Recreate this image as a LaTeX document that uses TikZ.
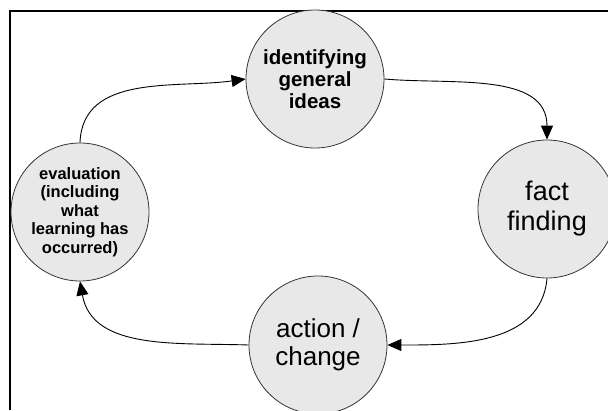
\documentclass[tikz,border=0pt]{standalone}
\usepackage{fontspec}
\setmainfont{Liberation Sans}
\usetikzlibrary{arrows.meta}

\begin{document}
\begin{tikzpicture}[x=1pt,y=-1pt,>={Triangle[length=14pt,width=12pt]}]
            \useasboundingbox (0,0) rectangle (608,410);
            \fill[white] (0,0) rectangle (608,410);
            \clip (0,0) rectangle (608,410);
            \draw[line width=2pt] (10,410) -- (10,11) -- (608,11);
            \begin{scope}[every node/.style={circle,draw=black!80,fill=gray!18,line width=0.8pt,minimum size=138pt,inner sep=0pt,align=center}]
                \node[font=\fontsize{20.5}{22}\selectfont\bfseries] (idea) at (315,79) {identifying\\general\\ideas};
                \node[font=\fontsize{27}{30}\selectfont] (fact) at (547,209) {fact\\finding};
                \node[font=\fontsize{26}{28.5}\selectfont] (action) at (318,345) {action /\\change};
                \node[font=\fontsize{16.5}{18.5}\selectfont\bfseries] (eval) at (80,212) {evaluation\\(including\\what\\learning has\\occurred)};
            \end{scope}
            \draw (eval.north) edge [->, line width=0.9pt, out=88, in=188] (idea.west);
            \draw (idea.east) edge [->, line width=0.9pt, out=-5, in=90] (fact.north);
            \draw (fact.south) edge [->, line width=0.9pt, out=-95, in=0] (action.east);
            \draw (action.west) edge [->, line width=0.9pt, out=178, in=-80] (eval.south);
        \end{tikzpicture}
\end{document}
